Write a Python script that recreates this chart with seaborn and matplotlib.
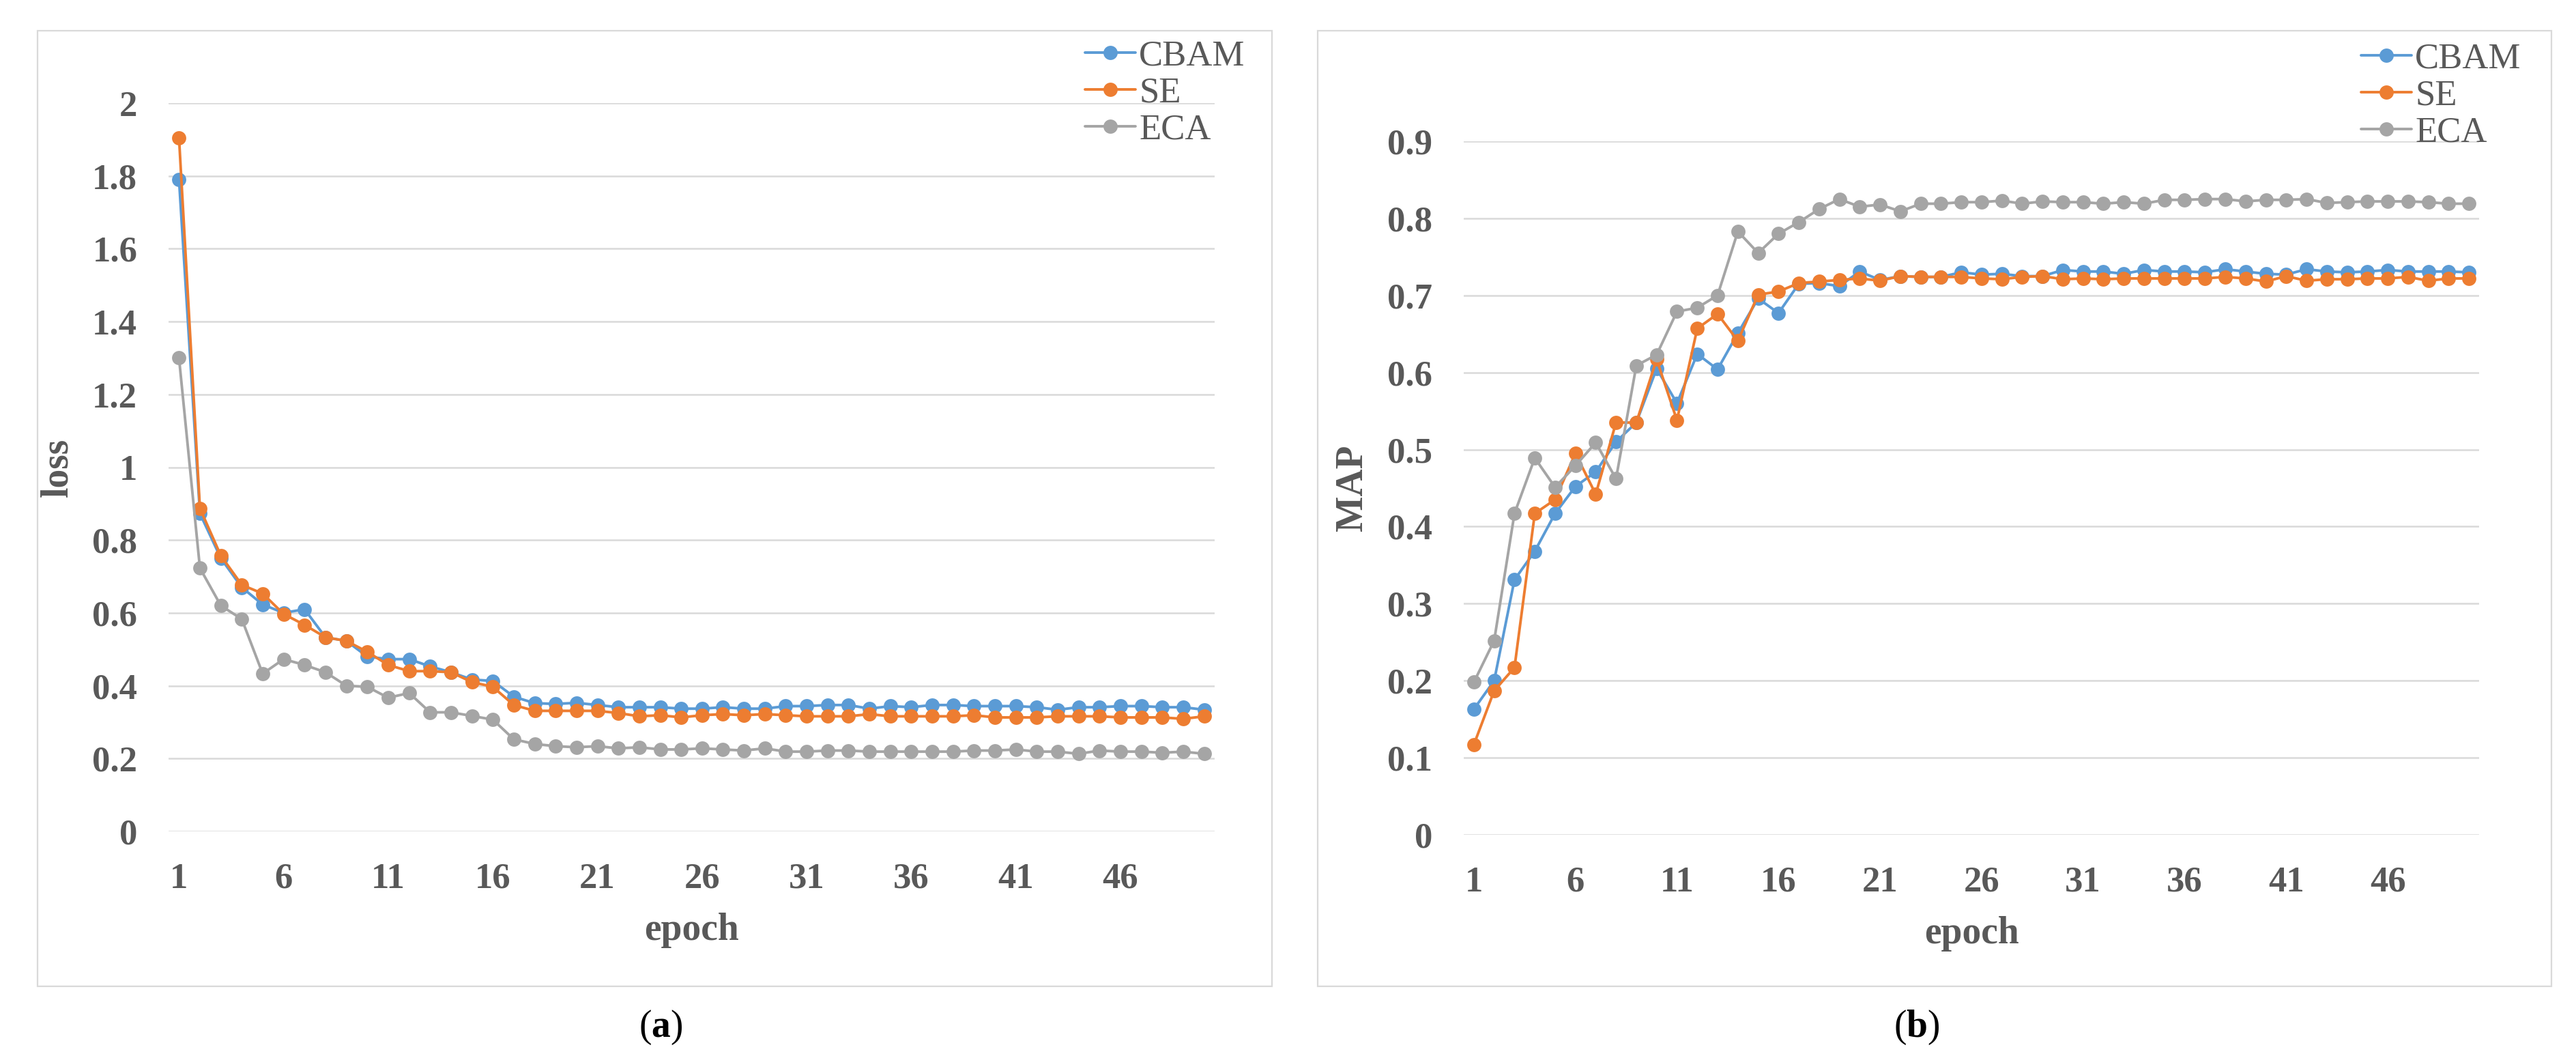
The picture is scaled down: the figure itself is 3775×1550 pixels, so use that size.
import matplotlib
matplotlib.use("Agg")
import matplotlib.pyplot as plt
from matplotlib.patches import Rectangle
from matplotlib.lines import Line2D
import seaborn as sns
import pandas as pd

# ---------------- data ----------------
epochs = list(range(1, 51))
models = ["CBAM", "SE", "ECA"]

loss_cbam = [1.79, 0.873, 0.75, 0.67, 0.623, 0.60, 0.61, 0.533, 0.523, 0.48,
             0.473, 0.473, 0.453, 0.437, 0.417, 0.413, 0.37, 0.352, 0.35, 0.353,
             0.347, 0.341, 0.341, 0.341, 0.337, 0.337, 0.341, 0.337, 0.337, 0.344,
             0.344, 0.347, 0.347, 0.337, 0.344, 0.341, 0.347, 0.347, 0.344, 0.344,
             0.344, 0.341, 0.334, 0.341, 0.341, 0.344, 0.344, 0.341, 0.341, 0.334]
loss_se = [1.905, 0.887, 0.757, 0.677, 0.653, 0.597, 0.567, 0.533, 0.523, 0.493,
           0.457, 0.44, 0.44, 0.437, 0.41, 0.397, 0.347, 0.331, 0.331, 0.331,
           0.331, 0.325, 0.316, 0.319, 0.313, 0.319, 0.322, 0.319, 0.322, 0.319,
           0.316, 0.316, 0.316, 0.322, 0.316, 0.316, 0.316, 0.316, 0.319, 0.313,
           0.313, 0.313, 0.316, 0.316, 0.316, 0.313, 0.313, 0.313, 0.309, 0.316]
loss_eca = [1.30, 0.723, 0.62, 0.583, 0.433, 0.473, 0.457, 0.437, 0.40, 0.397,
            0.367, 0.38, 0.327, 0.327, 0.317, 0.307, 0.253, 0.24, 0.234, 0.231,
            0.234, 0.228, 0.231, 0.225, 0.225, 0.228, 0.225, 0.222, 0.228, 0.219,
            0.219, 0.222, 0.222, 0.219, 0.219, 0.219, 0.219, 0.219, 0.222, 0.222,
            0.225, 0.219, 0.219, 0.213, 0.222, 0.219, 0.219, 0.216, 0.219, 0.213]

map_cbam = [0.163, 0.20, 0.331, 0.368, 0.417, 0.452, 0.471, 0.51, 0.535, 0.605,
            0.56, 0.624, 0.604, 0.651, 0.696, 0.677, 0.715, 0.716, 0.712, 0.731,
            0.72, 0.725, 0.724, 0.724, 0.73, 0.727, 0.728, 0.725, 0.725, 0.733,
            0.731, 0.731, 0.728, 0.733, 0.731, 0.731, 0.73, 0.734, 0.731, 0.728,
            0.727, 0.734, 0.731, 0.73, 0.731, 0.733, 0.731, 0.731, 0.731, 0.73]
map_se = [0.117, 0.187, 0.217, 0.417, 0.435, 0.495, 0.442, 0.535, 0.535, 0.617,
          0.538, 0.657, 0.676, 0.641, 0.701, 0.705, 0.716, 0.718, 0.72, 0.722,
          0.719, 0.725, 0.724, 0.724, 0.724, 0.722, 0.721, 0.724, 0.725, 0.721,
          0.722, 0.721, 0.722, 0.722, 0.722, 0.722, 0.722, 0.724, 0.722, 0.718,
          0.725, 0.719, 0.721, 0.721, 0.722, 0.722, 0.724, 0.719, 0.722, 0.722]
map_eca = [0.198, 0.252, 0.417, 0.489, 0.451, 0.479, 0.509, 0.462, 0.609, 0.623,
           0.679, 0.684, 0.70, 0.783, 0.755, 0.78, 0.795, 0.812, 0.825, 0.815,
           0.818, 0.809, 0.819, 0.819, 0.821, 0.821, 0.823, 0.819, 0.822, 0.821,
           0.821, 0.819, 0.821, 0.819, 0.824, 0.824, 0.825, 0.825, 0.822, 0.824,
           0.824, 0.825, 0.820, 0.821, 0.822, 0.822, 0.822, 0.821, 0.819, 0.819]

x_tick_labels = ["1", "6", "11", "16", "21", "26", "31", "36", "41", "46"]
loss_ticks = [0, 0.2, 0.4, 0.6, 0.8, 1, 1.2, 1.4, 1.6, 1.8, 2]
map_ticks = [0, 0.1, 0.2, 0.3, 0.4, 0.5, 0.6, 0.7, 0.8, 0.9]

colors = {"CBAM": "#5B9BD5", "SE": "#ED7D31", "ECA": "#A5A5A5"}

# ---------------- style ----------------
sns.set_theme(style="white")
plt.rcParams["font.family"] = ["Liberation Serif", "DejaVu Serif"]
plt.rcParams["mathtext.fontset"] = "custom"
plt.rcParams["mathtext.rm"] = "Liberation Serif"
plt.rcParams["mathtext.bf"] = "Liberation Serif:bold"

W, H = 3775, 1550
fig = plt.figure(figsize=(W / 100, H / 100), dpi=100)
fig.patch.set_facecolor("white")

TXT = "#595959"


def build(vals):
    rows = []
    for m, v in zip(models, vals):
        for e, y in zip(epochs, v):
            rows.append({"epoch": e, "value": y, "model": m})
    return pd.DataFrame(rows)


def panel(rect_px, frame_px, vals, ticks, ylabel, leg_px, letter, letter_x):
    l, r, t, b = rect_px
    ax = fig.add_axes([l / W, 1 - b / H, (r - l) / W, (b - t) / H])
    df = build(vals)
    sns.lineplot(data=df, x="epoch", y="value", hue="model", hue_order=models,
                 palette=colors, marker="o", markersize=15, markeredgewidth=0,
                 linewidth=2.8, ax=ax, legend=False, zorder=3)
    ax.set_xlim(0.5, 50.5)
    ax.set_ylim(ticks[0], ticks[-1])
    ax.set_yticks(ticks)
    ax.set_yticklabels([f"{v:g}" for v in ticks])
    ax.set_xticks([int(s) for s in x_tick_labels])
    ax.set_xticklabels(x_tick_labels)
    ax.grid(axis="y", color="#D9D9D9", linewidth=1.8, zorder=0)
    ax.grid(axis="x", visible=False)
    ax.set_axisbelow(True)
    for s in ax.spines.values():
        s.set_visible(False)
    ax.tick_params(axis="both", length=0, labelsize=38, colors=TXT)
    ax.tick_params(axis="y", pad=33)
    ax.tick_params(axis="x", pad=33)
    for lab in ax.get_xticklabels() + ax.get_yticklabels():
        lab.set_fontweight("bold")
    ax.set_xlabel("epoch", fontsize=40, fontweight="bold", color=TXT, labelpad=18)
    ax.set_ylabel(ylabel, fontsize=40, fontweight="bold", color=TXT, labelpad=18)
    ax.set_facecolor("none")

    handles = [Line2D([], [], color=colors[m], marker="o", markersize=15,
                      markeredgewidth=0, linewidth=2.8) for m in models]
    leg = ax.legend(handles, models, loc="upper left",
                    bbox_to_anchor=(leg_px[0] / W, 1 - leg_px[1] / H),
                    bbox_transform=fig.transFigure, frameon=False,
                    fontsize=38, handlelength=1.4, handletextpad=0.1,
                    labelspacing=0.12, borderpad=0, borderaxespad=0)
    for tx in leg.get_texts():
        tx.set_color(TXT)

    fl, fr, ft, fb = frame_px
    fig.patches.append(Rectangle((fl / W, 1 - fb / H), (fr - fl) / W, (fb - ft) / H,
                                 transform=fig.transFigure, fill=False,
                                 edgecolor="#D9D9D9", linewidth=1.6, zorder=0))
    fig.text(letter_x / W, 1 - 1505 / H, "(" + r"$\mathbf{" + letter + "}$" + ")",
             ha="center", va="center", fontsize=40, color="black")
    return ax


panel((247, 1780, 151, 1218), (55, 1864, 45, 1445),
      [loss_cbam, loss_se, loss_eca], loss_ticks, "loss", (1590, 58), "a", 968)
panel((2145, 3633, 207, 1223), (1931, 3739, 45, 1445),
      [map_cbam, map_se, map_eca], map_ticks, "MAP", (3460, 62), "b", 2809)

fig.savefig("out.png", dpi=100, facecolor="white")
